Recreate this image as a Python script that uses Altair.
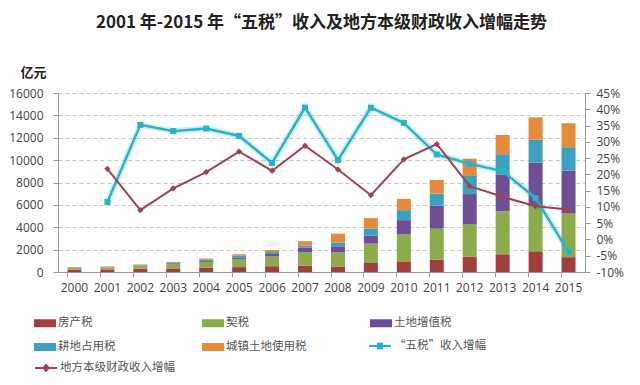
import altair as alt
import pandas as pd

years = [str(y) for y in range(2000, 2016)]
tax_names = ["房产税", "契税", "土地增值税", "耕地占用税", "城镇土地使用税"]
tax_colors = ["#A23E3C", "#8CAB4B", "#6E4F96", "#3DA0C0", "#E58A3A"]

fangchan = [209, 228, 282, 323, 366, 436, 515, 575, 455, 804, 894, 1102, 1372, 1582, 1852, 1325]
qishui = [131, 157, 239, 358, 540, 735, 867, 1207, 1308, 1735, 2465, 2766, 2874, 3844, 4001, 3899]
tudi_zengzhi = [8, 10, 20, 37, 75, 141, 232, 403, 537, 720, 1278, 2063, 2719, 3294, 3915, 3832]
gengdi = [35, 38, 57, 90, 120, 142, 171, 185, 314, 633, 889, 1075, 1621, 1808, 2059, 2097]
chengzhen = [65, 66, 77, 92, 106, 137, 177, 385, 817, 921, 1004, 1222, 1542, 1719, 1993, 2142]

line_years = years[1:]
wushui_name = "“五税”收入增幅"
difang_name = "地方本级财政收入增幅"
wushui_growth = [11.5, 35.2, 33.3, 34.1, 31.8, 23.5, 40.5, 24.4, 40.5, 35.8, 26.1, 23.2, 21.0, 12.7, -3.8]
difang_growth = [21.7, 9.0, 15.7, 20.7, 27.0, 21.1, 28.8, 21.5, 13.6, 24.6, 29.3, 16.4, 13.1, 10.2, 9.2]

series = [fangchan, qishui, tudi_zengzhi, gengdi, chengzhen]
rows = []
for k, (name, vals) in enumerate(zip(tax_names, series)):
    for y, v in zip(years, vals):
        rows.append({"year": y, "tax": name, "value": v, "k": k})
bars_df = pd.DataFrame(rows)
wushui_df = pd.DataFrame({"year": line_years, "growth": wushui_growth, "series": wushui_name})
difang_df = pd.DataFrame({"year": line_years, "growth": difang_growth, "series": difang_name})

FONT = "Noto Sans CJK SC"
NUMFONT = "Open Sans"

xscale = alt.Scale(domain=years, paddingInner=0.58, paddingOuter=0.29)
xaxis = alt.Axis(title=None, labelAngle=0, bandPosition=0, labelFont=NUMFONT,
                 labelFontSize=12, labelColor="#444", domainColor="#999", tickColor="#999",
                 tickSize=5, labelPadding=5, grid=False)

swatch = "M-1.1,-0.4H1.1V0.4H-1.1Z"

bars = alt.Chart(bars_df).mark_bar(size=14).encode(
    x=alt.X("year:N", scale=xscale, axis=xaxis),
    y=alt.Y("value:Q", stack="zero",
            scale=alt.Scale(domain=[0, 16000], nice=False),
            axis=alt.Axis(title="亿元", titleAngle=0, titleX=-25, titleY=-14, titleAlign="center",
                          titleFont=FONT, titleFontSize=13, titleFontWeight="bold", titleColor="#222",
                          values=list(range(0, 16001, 2000)), format="d",
                          labelFont=NUMFONT, labelFontSize=12, labelColor="#444",
                          domainColor="#999", tickColor="#999", tickSize=5, labelPadding=10,
                          grid=True, gridColor="#c8c8c8", gridDash=[4, 3])),
    color=alt.Color("tax:N", scale=alt.Scale(domain=tax_names, range=tax_colors),
                    legend=alt.Legend(title=None, orient="none", legendX=-23, legendY=220,
                                      direction="horizontal",
                                      columns=3, gridAlign="all", columnPadding=63, rowPadding=8,
                                      symbolType=swatch, symbolSize=400, symbolStrokeWidth=0,
                                      labelFont=FONT, labelFontSize=11.5, labelColor="#555",
                                      labelOffset=3)),
    order=alt.Order("k:Q", sort="ascending"),
)

yright = alt.Scale(domain=[-10, 45], nice=False)
raxis = alt.Axis(title=None, orient="right", values=list(range(-10, 46, 5)),
                 labelExpr="datum.value + '%'", labelFont=NUMFONT, labelFontSize=12,
                 labelColor="#444", domainColor="#999", tickColor="#999", tickSize=5,
                 labelPadding=6, grid=False)

line_symbol = "M-1.1,0H1.1M-0.22,-0.22H0.22V0.22H-0.22Z"
line_symbol2 = "M-1.1,0H1.1M0,-0.3L0.25,0L0,0.3L-0.25,0Z"

glow = alt.Chart(wushui_df).mark_line(strokeWidth=6, opacity=0.22, color="#26B3C8").encode(
    x=alt.X("year:N", scale=xscale, axis=xaxis),
    y=alt.Y("growth:Q", scale=yright, axis=raxis),
)

cyan = alt.Chart(wushui_df).mark_line(
    strokeWidth=2.4, point=alt.OverlayMarkDef(shape="square", size=36, filled=True)
).encode(
    x=alt.X("year:N", scale=xscale, axis=xaxis),
    y=alt.Y("growth:Q", scale=yright, axis=raxis),
    color=alt.Color("series:N", scale=alt.Scale(domain=[wushui_name], range=["#26B3C8"]),
                    legend=alt.Legend(title=None, orient="none", legendX=311, legendY=242,
                                      symbolType=line_symbol, symbolSize=400, symbolStrokeWidth=2,
                                      symbolFillColor="#26B3C8",
                                      labelFont=FONT, labelFontSize=11.5, labelColor="#555",
                                      labelOffset=3)),
)

red = alt.Chart(difang_df).mark_line(
    strokeWidth=2, point=alt.OverlayMarkDef(shape="diamond", size=40, filled=True)
).encode(
    x=alt.X("year:N", scale=xscale, axis=xaxis),
    y=alt.Y("growth:Q", scale=yright, axis=raxis),
    color=alt.Color("series:N", scale=alt.Scale(domain=[difang_name], range=["#A04250"]),
                    legend=alt.Legend(title=None, orient="none", legendX=-23, legendY=264,
                                      symbolType=line_symbol2, symbolSize=400, symbolStrokeWidth=2,
                                      symbolFillColor="#A04250",
                                      labelFont=FONT, labelFontSize=11.5, labelColor="#555",
                                      labelOffset=3)),
)

lines = alt.layer(glow, cyan, red).resolve_scale(color="independent")

chart = alt.layer(bars, lines).resolve_scale(y="independent", color="independent").properties(
    width=527, height=179,
    autosize=alt.AutoSizeParams(type="none"),
    padding={"left": 50, "top": 85, "right": 47, "bottom": 105},
    title=alt.TitleParams("2001 年-2015 年“五税”收入及地方本级财政收入增幅走势", font=FONT,
                          fontSize=17, fontWeight="bold", color="#222", anchor="middle", offset=34),
    background="white",
).configure_view(stroke=None)

chart.save("out.html", embed_options={"renderer": "svg", "actions": False})
